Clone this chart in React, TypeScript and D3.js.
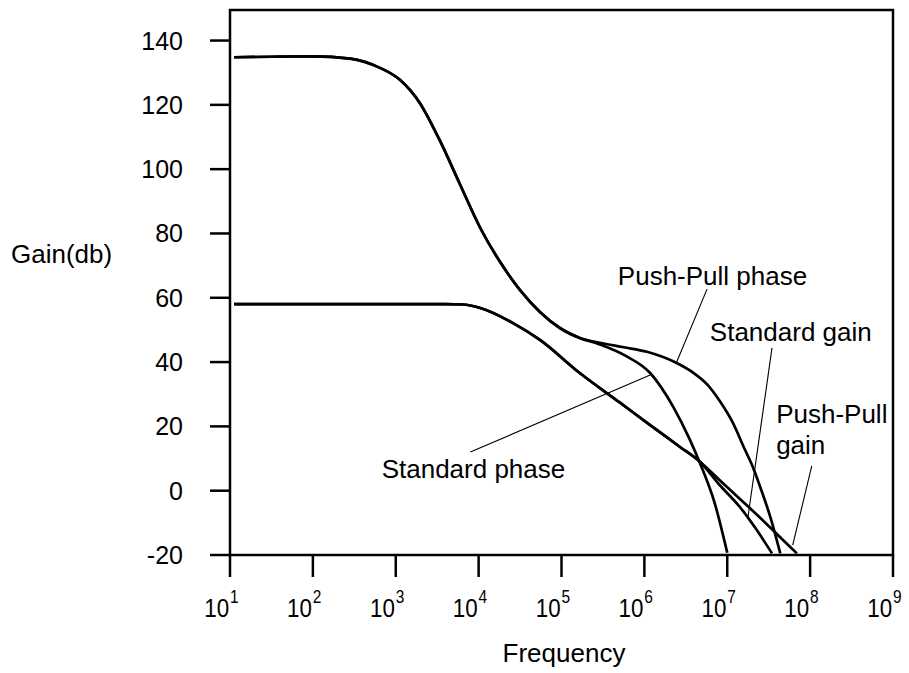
import React from 'react';
import * as d3 from 'd3';

const W = 909;
const H = 673;

// axis ticks
const xExponents = [1, 2, 3, 4, 5, 6, 7, 8, 9];
const yTicks = [-20, 0, 20, 40, 60, 80, 100, 120, 140];

// curve points: [log10(frequency), gain dB]
const highGainShared = [
  [1.05, 134.8], [1.6, 135.0], [2.0, 135.1], [2.45, 134.4], [2.81, 131.5],
  [3.05, 127.8], [3.29, 120.6], [3.53, 109], [3.78, 95], [4.02, 81.7],
  [4.26, 71.1], [4.5, 62.4], [4.74, 55.6], [4.98, 50.6], [5.22, 47.5],
];
const pushPullPhase = [
  [5.46, 46], [5.75, 44.6], [6.03, 43.2], [6.39, 39.7], [6.6, 36.5], [6.76, 33],
  [6.92, 27.5], [7.07, 21], [7.2, 13.5], [7.31, 7.3], [7.42, -0.5], [7.52, -8.2], [7.64, -19.5],
];
const standardPhase = [
  [5.46, 45.5], [5.77, 42], [6.07, 36.6], [6.35, 26], [6.55, 15.8],
  [6.67, 8.6], [6.85, -4], [7.0, -19.3],
];
const lowGainShared = [
  [1.05, 58], [2, 58], [3, 58], [3.6, 58], [3.81, 57.9], [4.02, 56.8],
  [4.41, 52.2], [4.74, 46.9], [5.22, 36.6], [5.71, 27.3], [6.07, 20.4],
  [6.43, 13.6], [6.67, 9.0],
];
const standardGain = [[6.9, 2], [7.15, -5], [7.35, -12], [7.54, -19.5]];
const pushPullGain = [[6.9, 3.5], [7.15, -2.5], [7.4, -8.5], [7.62, -14], [7.84, -19.5]];

// annotations (data coordinates)
const labelLines = [["Push-Pull phase"], ["Standard gain"], ["Push-Pull", "gain"], ["Standard phase"]];
const labelAt = [[5.68, 64.0], [6.79, 46.6], [7.59, 21.0], [2.83, 3.9]];
const pointerFrom = [[6.756, 62.7], [7.54, 44.4], [8.02, 7.7], [3.9, 12.0]];
const pointerTo = [[6.39, 40.0], [7.25, -8.2], [7.79, -16.9], [6.07, 36.0]];

export default function App() {
  const x = d3.scaleLog().domain([10, 1e9]).range([230, 893]);
  const y = d3.scaleLinear().domain([-20, 149.5]).range([555, 10]);
  const px = (e: number) => x(Math.pow(10, e));

  const line = d3.line<number[]>()
    .x(d => px(d[0]))
    .y(d => y(d[1]))
    .curve(d3.curveMonotoneX);

  const curves = [
    highGainShared.concat(pushPullPhase),
    highGainShared.concat(standardPhase),
    lowGainShared.concat(standardGain),
    lowGainShared.concat(pushPullGain),
  ];

  const left = x(10), right = x(1e9), top = y(149.5), bottom = y(-20);

  return (
    <svg width={W} height={H} style={{ position: 'absolute', left: 0, top: 0 }}
      fontFamily="'Liberation Sans', Arial, Helvetica, sans-serif">
      <rect width={W} height={H} fill="#fff" />

      {curves.map((c, i) => (
        <path key={i} d={line(c) || ''} fill="none" stroke="#000" strokeWidth={2.7} />
      ))}

      {/* pointer lines */}
      {pointerFrom.map((p, i) => (
        <line key={i} x1={px(p[0])} y1={y(p[1])} x2={px(pointerTo[i][0])} y2={y(pointerTo[i][1])}
          stroke="#000" strokeWidth={1.1} />
      ))}

      {/* frame */}
      <rect x={left} y={top} width={right - left} height={bottom - top}
        fill="none" stroke="#000" strokeWidth={2.5} />

      {/* y axis */}
      {yTicks.map(t => (
        <g key={t}>
          <line x1={left - 20} x2={left} y1={y(t)} y2={y(t)} stroke="#000" strokeWidth={2.5} />
          <text x={183} y={y(t)} dy="0.36em" textAnchor="end" fontSize={25}>{t}</text>
        </g>
      ))}

      {/* x axis */}
      {xExponents.map(e => (
        <g key={e}>
          <line x1={px(e)} x2={px(e)} y1={bottom} y2={bottom + 22} stroke="#000" strokeWidth={2.5} />
          <g transform={`translate(${px(e)},617) scale(0.86,1)`}>
            <text x={-30} y={0} fontSize={26}>
              10<tspan dx={1} dy={-14} fontSize={18}>{e}</tspan>
            </text>
          </g>
        </g>
      ))}

      <text x={11} y={263} fontSize={26}>Gain(db)</text>
      <text x={564} y={662} fontSize={26} textAnchor="middle">Frequency</text>

      {labelLines.map((ls, i) => (
        <text key={i} x={px(labelAt[i][0])} y={y(labelAt[i][1])} fontSize={26}>
          {ls.map((s, j) => (
            <tspan key={j} x={px(labelAt[i][0])} dy={j === 0 ? 0 : 31}>{s}</tspan>
          ))}
        </text>
      ))}
    </svg>
  );
}
